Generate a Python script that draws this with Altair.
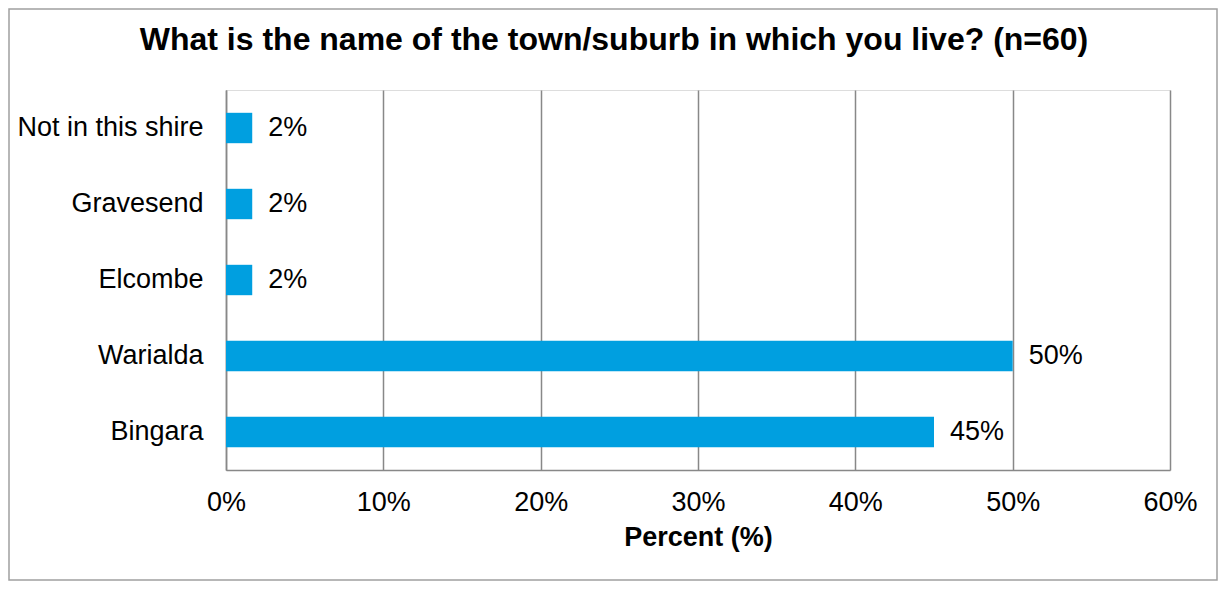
import altair as alt
import pandas as pd

categories = ["Not in this shire", "Gravesend", "Elcombe", "Warialda", "Bingara"]
values = [1.667, 1.667, 1.667, 50.0, 45.0]
labels = ["2%", "2%", "2%", "50%", "45%"]
title_text = "What is the name of the town/suburb in which you live? (n=60)"

df = pd.DataFrame({"cat": categories, "val": values, "lab": labels})

FONT = "Liberation Sans"
W, H = 944, 380
PL, PT, PR, PB = 218, 82, 48, 111
FS = 27

y_enc = alt.Y("cat:N", sort=categories, title=None,
              scale=alt.Scale(paddingInner=0.6, paddingOuter=0.3),
              axis=alt.Axis(labelFont=FONT, labelFontSize=FS, labelColor="#000000",
                            ticks=False, labelPadding=23, domainColor="#888888",
                            domainWidth=1.5, grid=False, labelLimit=400))
x_enc = alt.X("val:Q", title="Percent (%)",
              scale=alt.Scale(domain=[0, 60], nice=False),
              axis=alt.Axis(values=[0, 10, 20, 30, 40, 50, 60],
                            labelExpr="datum.value + '%'",
                            labelFont=FONT, labelFontSize=FS, labelColor="#000000",
                            ticks=False, labelPadding=19, domainColor="#888888",
                            domainWidth=1.5, grid=True, gridColor="#888888",
                            gridWidth=1.5, titleFont=FONT, titleFontSize=FS,
                            titleFontWeight="bold", titleColor="#000000",
                            titlePadding=9, labelFlush=False))

bars = alt.Chart(df).mark_bar(color="#009FE0").encode(y=y_enc, x=x_enc)
text = alt.Chart(df).mark_text(align="left", dx=16, font=FONT, fontSize=FS,
                               color="#000000", baseline="middle").encode(
    y=alt.Y("cat:N", sort=categories), x="val:Q", text="lab:N")

border = alt.Chart(pd.DataFrame({"a": [0]})).mark_rect(
    fill=None, stroke="#A0A0A0", strokeWidth=1.5, clip=False).encode(
    x=alt.value(-PL + 1), x2=alt.value(W + PR - 1),
    y=alt.value(-PT + 1), y2=alt.value(H + PB - 1))

title = alt.Chart(pd.DataFrame({"t": [title_text]})).mark_text(
    font=FONT, fontSize=32, fontWeight="bold", color="#000000",
    align="center", baseline="alphabetic").encode(
    text="t:N", x=alt.value(W / 2 - 84), y=alt.value(-40))

chart = alt.layer(bars, text, border, title).properties(
    width=W, height=H,
    autosize=alt.AutoSizeParams(type="none"),
    padding={"left": PL, "top": PT, "right": PR, "bottom": PB},
).configure_view(stroke=None).configure(background="white")

chart.save("out.html", embed_options={"renderer": "svg", "actions": False})
